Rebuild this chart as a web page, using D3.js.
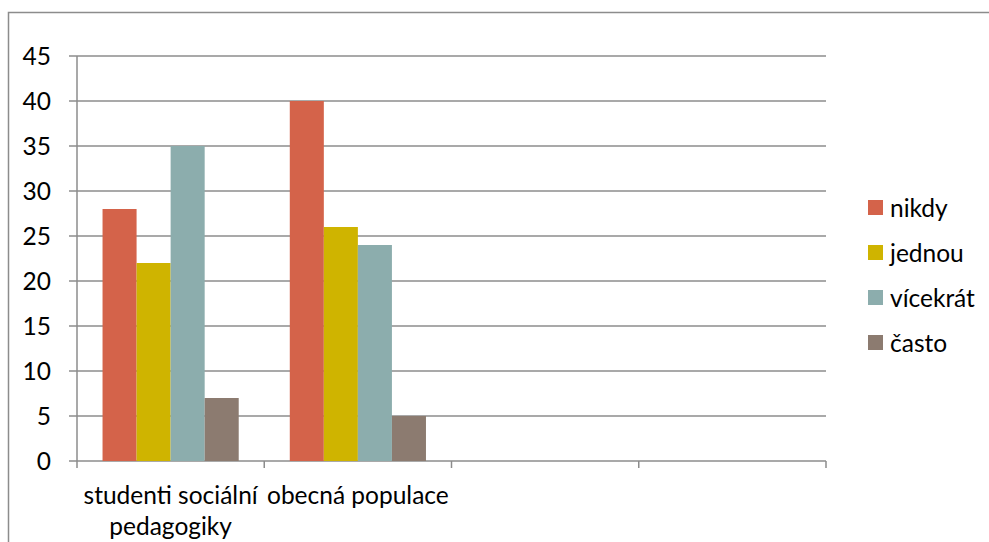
<!DOCTYPE html>
<html>
<head>
<meta charset="utf-8">
<script src="https://cdn.jsdelivr.net/npm/d3@7"></script>
<style>
  html, body { margin: 0; padding: 0; background: #fff; }
  svg { display: block; }
  text { font-family: Lato, "Open Sans", sans-serif; fill: #000; }
</style>
</head>
<body>
<svg id="chart" width="989" height="542"></svg>
<script>
// Categories on the x axis (four slots, last two empty)
const categories = ["studenti sociální pedagogiky", "obecná populace", "", " "];
const seriesNames = ["nikdy", "jednou", "vícekrát", "často"];
const seriesColors = ["#D4634A", "#CFB400", "#8CADAD", "#8C7B70"];
// Values per category, in series order
const valuesStudenti = [28, 22, 35, 7];
const valuesPopulace = [40, 26, 24, 5];
const yTicks = [0, 5, 10, 15, 20, 25, 30, 35, 40, 45];

const data = [
  { cat: categories[0], values: valuesStudenti },
  { cat: categories[1], values: valuesPopulace }
];

const svg = d3.select("#chart");
const plot = { left: 77, right: 826, top: 56, bottom: 461 };
const gridColor = "#8c8c8c";
const fontSize = 24.5;

// Outer frame
svg.append("rect")
  .attr("x", 8.5).attr("y", 12.5)
  .attr("width", 990).attr("height", 540)
  .attr("fill", "none").attr("stroke", gridColor).attr("stroke-width", 1.5);

const x = d3.scaleBand().domain(categories).range([plot.left, plot.right]).padding(0);
const y = d3.scaleLinear().domain([0, 45]).range([plot.bottom, plot.top]);

// Inner band for bars: gap width 150% of a bar
const nSeries = seriesNames.length;
const barW = x.bandwidth() / (nSeries + 1.5);
const xs = d3.scaleBand().domain(d3.range(nSeries))
  .range([barW * 0.75, barW * 0.75 + barW * nSeries]).padding(0);

// Horizontal gridlines with small outward ticks, plus value labels
const gy = svg.append("g").attr("transform", `translate(${plot.left},0)`);
gy.selectAll("line.grid").data(yTicks).join("line")
  .attr("class", "grid")
  .attr("x1", -8).attr("x2", plot.right - plot.left)
  .attr("y1", d => y(d)).attr("y2", d => y(d))
  .attr("stroke", gridColor).attr("stroke-width", 1.5);
gy.selectAll("text.ylab").data(yTicks).join("text")
  .attr("class", "ylab")
  .attr("x", -26).attr("y", d => y(d))
  .attr("dy", "0.36em")
  .attr("text-anchor", "end")
  .attr("font-size", fontSize)
  .text(d => d);

// Vertical axis line
svg.append("line")
  .attr("x1", plot.left).attr("x2", plot.left)
  .attr("y1", plot.top).attr("y2", plot.bottom + 7)
  .attr("stroke", gridColor).attr("stroke-width", 1.5);

// Category boundary ticks below the axis
const boundaries = categories.map(c => x(c)).concat([plot.right]);
svg.selectAll("line.xtick").data(boundaries.slice(1)).join("line")
  .attr("class", "xtick")
  .attr("x1", d => d).attr("x2", d => d)
  .attr("y1", plot.bottom).attr("y2", plot.bottom + 7)
  .attr("stroke", gridColor).attr("stroke-width", 1.5);

// Bars
const groups = svg.selectAll("g.cat").data(data).join("g")
  .attr("class", "cat")
  .attr("transform", d => `translate(${x(d.cat)},0)`);
groups.selectAll("rect").data(d => d.values).join("rect")
  .attr("x", (d, i) => xs(i))
  .attr("width", xs.bandwidth())
  .attr("y", d => y(d))
  .attr("height", d => y(0) - y(d))
  .attr("fill", (d, i) => seriesColors[i]);

// Category labels, wrapped to the band width
const labelLines = {
  [categories[0]]: ["studenti sociální", "pedagogiky"],
  [categories[1]]: ["obecná populace"]
};
data.forEach(d => {
  const cx = x(d.cat) + x.bandwidth() / 2;
  labelLines[d.cat].forEach((line, i) => {
    svg.append("text")
      .attr("x", cx).attr("y", 504 + i * 31)
      .attr("text-anchor", "middle")
      .attr("font-size", fontSize)
      .text(line);
  });
});

// Legend
const legend = svg.append("g").attr("transform", "translate(868,0)");
seriesNames.forEach((name, i) => {
  const cy = 208 + i * 45;
  legend.append("rect")
    .attr("x", 0).attr("y", cy - 8)
    .attr("width", 15).attr("height", 15)
    .attr("fill", seriesColors[i]);
  legend.append("text")
    .attr("x", 22).attr("y", cy)
    .attr("dy", "0.36em")
    .attr("font-size", fontSize)
    .text(name);
});
</script>
</body>
</html>
